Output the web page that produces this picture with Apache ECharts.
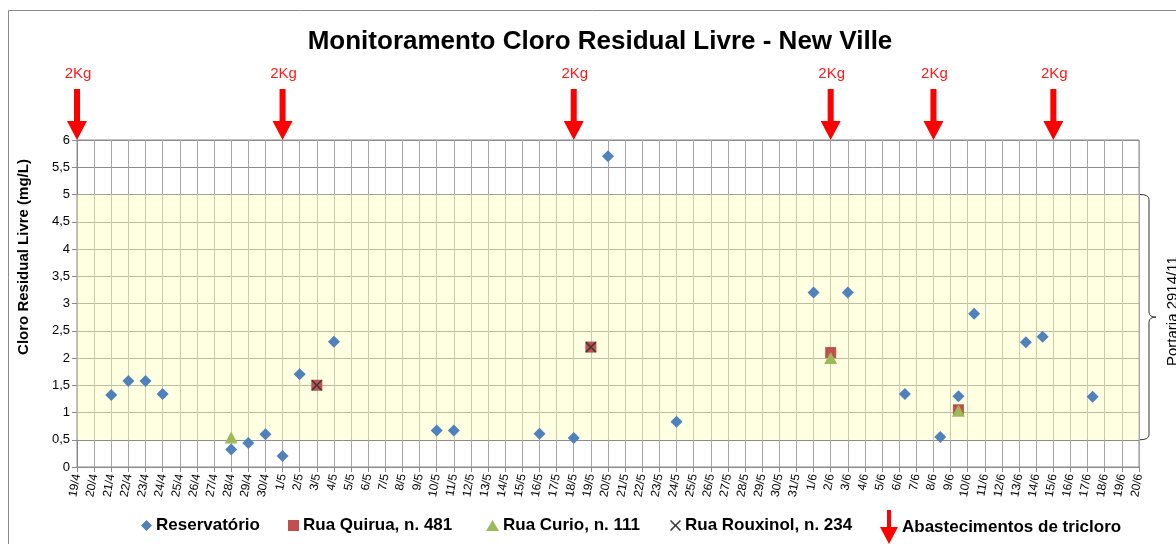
<!DOCTYPE html>
<html>
<head>
<meta charset="utf-8">
<script src="https://cdn.jsdelivr.net/npm/echarts@6/dist/echarts.min.js"></script>
<style>html,body{margin:0;padding:0;background:#fff}#c{width:1176px;height:544px}</style>
</head>
<body>
<div id="c"></div>
<script>
// ---- data ----
var xLabels = ['19/4','20/4','21/4','22/4','23/4','24/4','25/4','26/4','27/4','28/4','29/4','30/4',
  '1/5','2/5','3/5','4/5','5/5','6/5','7/5','8/5','9/5','10/5','11/5','12/5','13/5','14/5','15/5','16/5','17/5','18/5','19/5','20/5','21/5','22/5','23/5','24/5','25/5','26/5','27/5','28/5','29/5','30/5','31/5',
  '1/6','2/6','3/6','4/6','5/6','6/6','7/6','8/6','9/6','10/6','11/6','12/6','13/6','14/6','15/6','16/6','17/6','18/6','19/6','20/6'];
var yTickLabels = ['0','0,5','1','1,5','2','2,5','3','3,5','4','4,5','5','5,5','6'];

var reservDates = ['21/4','22/4','23/4','24/4','28/4','29/4','30/4','1/5','2/5','4/5','10/5','11/5','16/5','18/5','20/5','24/5','1/6','3/6','6/6 08:00','8/6 09:30','9/6 11:00','10/6 09:00','13/6 09:30','14/6 09:00','17/6 07:00'];
var reservVals  = [1.32,1.58,1.58,1.34,0.32,0.44,0.60,0.20,1.70,2.30,0.67,0.67,0.61,0.53,5.70,0.83,3.20,3.20,1.34,0.55,1.30,2.81,2.29,2.39,1.29];

var quiruaDates = ['3/5','19/5','2/6','9/6 11:00'];
var quiruaVals  = [1.50,2.20,2.10,1.05];

var curioDates = ['28/4','2/6','9/6 11:00'];
var curioVals  = [0.54,2.00,1.03];

var rouxinolDates = ['3/5','19/5'];
var rouxinolVals  = [1.50,2.20];

var supplyDates  = ['19/4','1/5','18/5','2/6','8/6','15/6'];
var supplyLabels = ['2Kg','2Kg','2Kg','2Kg','2Kg','2Kg'];

var seriesNames = ['Reservatório','Rua Quirua, n. 481','Rua Curio, n. 111','Rua Rouxinol, n. 234','Abastecimentos de tricloro'];
var bandRange = [0.5, 5];          // Portaria 2914/11 range
var bandLabel = 'Portaria 2914/11';
var titleText = 'Monitoramento Cloro Residual Livre - New Ville';
var yName = 'Cloro Residual Livre (mg/L)';
var yMin = 0, yMax = 6, yStep = 0.5;

// ---- helpers ----
var FONT = '"Liberation Sans", Arial, sans-serif';
var base = Date.UTC(2011, 3, 19);
function dayIndex(s) {
  var parts = s.split(' ');
  var dm = parts[0].split('/');
  var idx = (Date.UTC(2011, +dm[1] - 1, +dm[0]) - base) / 86400000;
  if (parts[1]) { var hm = parts[1].split(':'); idx += (+hm[0]) / 24 + (+hm[1]) / 1440; }
  return idx;
}
function pairs(dates, vals) { return dates.map(function (d, i) { return [dayIndex(d), vals[i]]; }); }

var xSymbol = 'path://M0,1L1,0L5,4L9,0L10,1L6,5L10,9L9,10L5,6L1,10L0,9L4,5Z';
var arrowIcon = 'path://M7,0L11,0L11,17L18,17L9,34L0,17L7,17Z';

var chart = echarts.init(document.getElementById('c'), null, {renderer: 'canvas'});

function legendItem(name, left, top, w, h, icon) {
  return {
    data: [{name: name, icon: icon}], left: left, top: top, itemWidth: w, itemHeight: h,
    itemGap: 0, padding: 0, selectedMode: false,
    textStyle: {fontFamily: FONT, fontSize: 17, fontWeight: 'bold', color: '#000', padding: [0,0,0,-1]}
  };
}

var option = {
  animation: false,
  backgroundColor: '#fff',
  title: {
    text: titleText, left: 595, top: 24, textAlign: 'center',
    textStyle: {fontFamily: FONT, fontSize: 26, fontWeight: 'bold', color: '#000'}
  },
  grid: {left: 77, right: 37, top: 140, bottom: 77, show: true, borderColor: '#8a8a8a', borderWidth: 1, backgroundColor: 'transparent'},
  legend: [
    legendItem(seriesNames[0], 141, 517, 11, 11, 'diamond'),
    legendItem(seriesNames[1], 288, 517, 11, 11, 'rect'),
    legendItem(seriesNames[2], 486, 517, 13, 11, 'triangle'),
    legendItem(seriesNames[3], 670, 517, 11, 11, xSymbol),
    legendItem(seriesNames[4], 880, 510, 18, 34, arrowIcon)
  ],
  xAxis: {
    type: 'value', min: 0, max: xLabels.length - 1, interval: 1,
    axisLine: {show: true, lineStyle: {color: '#8a8a8a'}},
    axisTick: {show: true, length: 5, lineStyle: {color: '#8a8a8a'}},
    splitLine: {show: true, lineStyle: {color: '#a6a6a6', width: 1}},
    axisLabel: {
      rotate: 80, margin: 7, fontFamily: FONT, fontSize: 12, color: '#000',
      showMinLabel: true, showMaxLabel: true,
      formatter: function (v) { return xLabels[Math.round(v)] || ''; }
    }
  },
  yAxis: {
    type: 'value', min: yMin, max: yMax, interval: yStep,
    axisLine: {show: true, lineStyle: {color: '#8a8a8a'}},
    axisTick: {show: true, length: 5, lineStyle: {color: '#8a8a8a'}},
    splitLine: {show: true, lineStyle: {color: '#8c8c8c', width: 1}},
    axisLabel: {
      margin: 7, fontFamily: FONT, fontSize: 13, color: '#000',
      formatter: function (v) { return yTickLabels[Math.round((v - yMin) / yStep)]; }
    }
  },
  graphic: [
    {type: 'rect', shape: {x: 8.5, y: 10.5, width: 1200, height: 600}, style: {fill: 'none', stroke: '#8a8a8a', lineWidth: 1}, silent: true, z: -1},
    {type: 'text', x: 24, y: 257, rotation: Math.PI / 2,
      style: {text: yName, fontFamily: FONT, fontSize: 15, fontWeight: 'bold', fill: '#000', align: 'center', verticalAlign: 'middle'}}
  ],
  series: [
    {
      name: seriesNames[0], type: 'scatter', symbol: 'diamond', symbolSize: [12, 12],
      itemStyle: {color: '#4F81BD', opacity: 1}, data: pairs(reservDates, reservVals), z: 3,
      markArea: {
        silent: true, itemStyle: {color: 'rgba(255,255,185,0.42)'},
        data: [[{yAxis: bandRange[0]}, {yAxis: bandRange[1]}]]
      }
    },
    {name: seriesNames[1], type: 'scatter', symbol: 'rect', symbolSize: 11, itemStyle: {color: '#C0504D', opacity: 1}, data: pairs(quiruaDates, quiruaVals), z: 4},
    {name: seriesNames[2], type: 'scatter', symbol: 'triangle', symbolSize: [13, 12], itemStyle: {color: '#9BBB59', opacity: 1}, data: pairs(curioDates, curioVals), z: 5},
    {name: seriesNames[3], type: 'scatter', symbol: xSymbol, symbolSize: 11, itemStyle: {color: '#3a3a3a', opacity: 1}, data: pairs(rouxinolDates, rouxinolVals), z: 6},
    {
      name: seriesNames[4], type: 'custom', clip: false, z: 7,
      itemStyle: {color: '#FF0000'},
      data: supplyDates.map(function (d) { return [dayIndex(d), yMax]; }),
      renderItem: function (params, api) {
        var p = api.coord([api.value(0), api.value(1)]);
        var x = p[0], y = p[1];
        return {type: 'group', children: [
          {type: 'polygon', shape: {points: [[x, y], [x - 10, y - 19], [x - 3, y - 19], [x - 3, y - 51], [x + 3, y - 51], [x + 3, y - 19], [x + 10, y - 19]]},
            style: {fill: '#FF0000'}},
          {type: 'text', x: x + 1, y: y - 66, style: {text: supplyLabels[params.dataIndex], fontFamily: FONT, fontSize: 15, fill: '#FF1A1A', align: 'center', verticalAlign: 'middle'}}
        ]};
      }
    },
    {
      name: bandLabel, type: 'custom', clip: false, z: 2, silent: true,
      data: [[xLabels.length - 1, bandRange[1], bandRange[0]]],
      renderItem: function (params, api) {
        var top = api.coord([api.value(0), api.value(1)]);
        var bot = api.coord([api.value(0), api.value(2)]);
        var x0 = top[0] + 1, x1 = top[0] + 10, x2 = top[0] + 17;
        var yt = top[1], yb = bot[1], ym = (yt + yb) / 2;
        var d = 'M' + x0 + ',' + yt + ' Q' + x1 + ',' + yt + ' ' + x1 + ',' + (yt + 5) +
          ' L' + x1 + ',' + (ym - 5) + ' Q' + x1 + ',' + ym + ' ' + x2 + ',' + ym +
          ' Q' + x1 + ',' + ym + ' ' + x1 + ',' + (ym + 5) +
          ' L' + x1 + ',' + (yb - 5) + ' Q' + x1 + ',' + yb + ' ' + x0 + ',' + yb;
        return {type: 'group', children: [
          {type: 'path', shape: {pathData: d}, style: {fill: 'none', stroke: '#333', lineWidth: 1}},
          {type: 'text', x: top[0] + 34, y: ym - 6, rotation: Math.PI / 2,
            style: {text: bandLabel, fontFamily: FONT, fontSize: 15, fill: '#000', align: 'center', verticalAlign: 'middle'}}
        ]};
      }
    }
  ]
};
chart.setOption(option);
</script>
</body>
</html>
